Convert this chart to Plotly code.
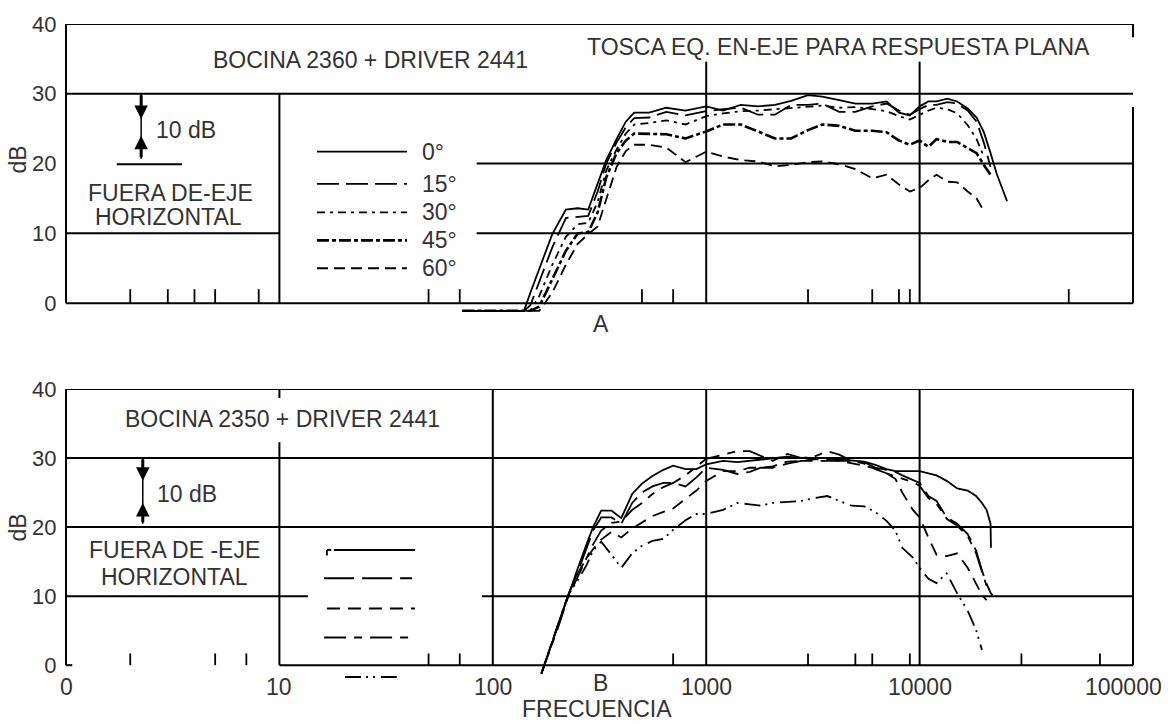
import math
import plotly.graph_objects as go

# ---------------- data ----------------
angles = ["0°", "15°", "30°", "45°", "60°"]

# A: horn 2360 + driver 2441, rough on-axis EQ for flat response
freq_a = [72, 140, 150, 165, 190, 220, 250, 280, 310, 340, 380, 420, 460, 540, 650,
          800, 1000, 1200, 1450, 1750, 2100, 2500, 3000, 3500, 4200, 5000, 6000, 7000,
          8000, 9000, 10000, 11000, 12000, 13500, 15000, 16800, 18500, 20000, 21500,
          23000, 25700]
db_a_0 = [-1.1, -1.1, 1.5, 5.0, 9.9, 13.4, 13.6, 13.4, 17.0, 20.5, 23.5, 26.0, 27.3, 27.3,
          28.0, 27.6, 28.2, 27.6, 28.4, 28.2, 28.4, 29.0, 29.8, 29.6, 29.1, 28.6, 28.6, 28.9,
          27.3, 26.9, 28.2, 28.9, 28.9, 29.3, 28.9, 27.9, 26.6, 24.5, 21.5, 18.5, 14.6]
db_a_15 = [-1.1, -1.1, -0.3, 3.0, 8.0, 12.2, 12.4, 12.5, 16.0, 20.0, 23.0, 25.2, 26.5, 26.6,
           27.4, 26.9, 27.5, 27.8, 28.0, 27.0, 27.0, 28.4, 28.4, 28.6, 27.4, 27.4, 28.2, 28.6,
           27.6, 27.0, 27.8, 28.4, 28.4, 28.8, 28.6, 27.6, 26.0, 23.0, 19.5, None, None]
db_a_30 = [-1.1, -1.1, -1.1, 1.0, 5.5, 9.5, 11.3, 11.5, 14.5, 19.0, 22.0, 24.3, 25.6, 25.8,
           26.2, 25.6, 26.8, 27.2, 27.5, 27.6, 27.8, 28.0, 28.1, 28.3, 28.0, 28.1, 27.8, 27.5,
           26.8, 26.3, 27.0, 27.6, 28.0, 27.8, 27.2, 25.5, 23.5, 21.0, None, None, None]
db_a_45 = [-1.1, -1.1, -1.1, -0.5, 3.5, 7.5, 10.0, 10.2, 13.0, 18.0, 21.5, 23.3, 24.3, 24.3,
           24.2, 23.6, 24.6, 25.6, 25.6, 24.6, 23.6, 23.6, 24.8, 25.6, 25.4, 24.7, 24.7, 24.5,
           23.3, 22.7, 23.3, 22.4, 23.5, 23.1, 23.1, 22.2, 21.5, 19.8, 18.4, None, None]
db_a_60 = [-1.1, -1.1, -1.1, -1.1, 1.5, 5.5, 8.5, 9.9, 11.0, 15.0, 19.5, 21.8, 22.7, 22.7,
           22.3, 20.2, 21.7, 21.0, 20.5, 20.3, 19.6, 19.8, 20.2, 20.3, 19.9, 19.2, 17.9, 18.4,
           17.0, 16.0, 16.5, 17.6, 18.4, 17.4, 17.3, 16.0, 15.0, 13.2, None, None, None]

# B: horn 2350 + driver 2441
freq_b = [169, 200, 225, 250, 275, 295, 322, 360, 400, 450, 500, 560, 630, 700, 800, 900,
          1000, 1200, 1400, 1600, 1800, 2050, 2400, 2800, 3200, 3700, 4200, 4800, 5500, 6200,
          7000, 7700, 8300, 9300, 10000, 11000, 12000, 13400, 15000, 16800, 18400, 19600,
          20600, 21500, 21600, 22000]
db_b_0 = [-1.2, 5.3, 10.1, 14.0, 17.5, 20.0, 22.4, 22.4, 21.3, 24.8, 26.3, 27.4, 28.3, 28.9,
          28.4, 28.4, 29.1, 29.6, 29.4, 29.6, 29.8, 30.0, 30.2, 30.0, 30.0, 30.0, 29.8, 29.6,
          29.5, 29.0, 28.4, 28.1, 28.1, 28.1, 28.1, 27.8, 27.5, 26.7, 25.6, 25.3, 24.5, 23.5,
          22.5, 20.5, 17.0, None]
db_b_15 = [-1.2, 5.3, 10.1, 13.5, 17.0, 19.5, 21.4, 21.4, 20.5, 23.5, 25.0, 25.9, 26.4, 26.4,
           25.9, 27.2, 28.6, 28.3, 27.7, 28.0, 28.6, 28.6, 29.2, 29.6, 29.6, 29.6, 29.6, 29.6,
           29.4, 28.6, 28.3, 28.0, 27.5, 26.8, 26.4, 24.5, 23.8, 21.4, 20.5, 19.0, 16.6, 13.7,
           11.8, 10.5, None, 10.1]
db_b_30 = [-1.2, 5.3, 10.1, 13.3, 15.5, 16.8, 18.2, 19.3, 18.5, 19.8, 20.7, 21.6, 22.2, 22.7,
           24.1, 25.3, 26.7, 28.1, 28.1, 28.6, 28.6, 28.8, 29.5, 29.6, 29.8, 29.8, 29.6, 29.3,
           28.9, 28.5, 27.8, 27.0, 25.0, 22.5, 21.4, 18.5, 16.0, 15.8, 16.2, 14.1, 11.8, 10.2,
           9.4, None, None, None]
db_b_45 = [-1.2, 5.0, 9.8, 12.8, 15.5, 17.5, 19.5, 20.6, 20.8, 22.5, 23.5, 24.8, 25.8, 26.4,
           27.5, 28.7, 29.9, 30.5, 31.0, 31.0, 30.3, 29.6, 30.6, 30.0, 30.2, 31.0, 30.5, 29.6,
           29.2, 28.4, 27.8, 27.4, 27.0, 26.5, 26.0, 24.2, 23.4, 21.2, 20.2, 18.7, 16.2, 13.4,
           11.5, None, None, None]
db_b_60 = [-1.2, 5.3, 10.1, 12.3, 14.5, 16.6, 17.9, 16.0, 14.1, 16.2, 17.3, 18.0, 18.3, 19.6,
           21.0, 21.9, 21.9, 22.5, 23.5, 23.3, 23.1, 23.5, 23.6, 23.8, 24.2, 24.5, 23.8, 23.1,
           23.0, 22.2, 20.9, 19.5, 17.0, 15.6, 14.1, 12.5, 11.9, 13.3, 10.4, 7.9, 5.1, 2.2,
           None, None, None, None]

decades = [1, 10, 100, 1000, 10000, 100000]
decade_labels = ["0", "10", "100", "1000", "10000", "100000"]
db_ticks = [0, 10, 20, 30, 40]
minor_a = [2, 3, 4, 5, 8, 50, 70, 500, 700, 3000, 6000, 8000, 9000, 50000]
minor_b = [2, 5, 7, 50, 70, 700, 3000, 5000, 6000, 9000, 30000, 70000]

# ---------------- styling ----------------
FONT = "Liberation Sans, Arial, sans-serif"
TXT = "#333333"
FS = 23
dash_a = ["solid", "22px,7px", "8px,5px,3px,5px", "12px,3px,4px,3px", "11px,6px"]
width_a = [1.8, 1.8, 1.8, 2.6, 1.8]
dash_b = ["solid", "30px,8px", "13px,8px", "22px,8px,8px,8px", "16px,5px,2px,5px,2px,6px"]

W, H = 1168, 724
L, R, T, B = 66, 35, 22, 45
PW, PH = W - L - R, H - T - B


def dom(f):
    return math.log10(f) / 5.0


def pxx(x):
    return (x - L) / PW


def pxy(y):
    return (H - B - y) / PH


fig = go.Figure()

series_a = [db_a_0, db_a_15, db_a_30, db_a_45, db_a_60]
series_b = [db_b_0, db_b_15, db_b_30, db_b_45, db_b_60]
for name, vals, dsh, wd in zip(angles, series_a, dash_a, width_a):
    fig.add_trace(go.Scatter(x=freq_a, y=vals, mode="lines", name=name, connectgaps=True,
                             line=dict(color="black", width=wd, dash=dsh),
                             xaxis="x", yaxis="y", showlegend=False))
for name, vals, dsh in zip(angles, series_b, dash_b):
    fig.add_trace(go.Scatter(x=freq_b, y=vals, mode="lines", name=name, connectgaps=True,
                             line=dict(color="black", width=1.8, dash=dsh),
                             xaxis="x2", yaxis="y2", showlegend=False))

shapes = []
ann = []


def refs(n):
    return ("x domain", "y") if n == 1 else ("x2 domain", "y2")


def hseg(n, y, f0, f1, width=2, dash="solid"):
    xr, yr = refs(n)
    shapes.append(dict(type="line", xref=xr, yref=yr, x0=dom(f0), x1=dom(f1), y0=y, y1=y,
                       layer="below", line=dict(color="black", width=width, dash=dash)))


def vseg(n, f, y0, y1, width=2):
    xr, yr = refs(n)
    shapes.append(dict(type="line", xref=xr, yref=yr, x0=dom(f), x1=dom(f), y0=y0, y1=y1,
                       layer="below", line=dict(color="black", width=width)))


# frame and grid of panel A
hseg(1, 40, 1, 1e5)
hseg(1, 30, 1, 1e5)
hseg(1, 20, 84, 1e5)
hseg(1, 10, 1, 10)
hseg(1, 10, 84, 1e5)
hseg(1, 0, 1, 1e5)
vseg(1, 1, 0, 40)
vseg(1, 10, 0, 30)
vseg(1, 1000, 0, 34.6)
vseg(1, 10000, 0, 34.6)
vseg(1, 1e5, 0, 28.1)
vseg(1, 1e5, 38.1, 40)
for f in minor_a:
    vseg(1, f, 0, 2.0, width=1.8)

# frame and grid of panel B
hseg(2, 40, 1, 1e5)
hseg(2, 30, 1, 1e5)
hseg(2, 20, 1, 1e5)
hseg(2, 10, 1, 13.6)
hseg(2, 10, 89, 1e5)
hseg(2, 0, 10, 1e5)
hseg(2, 0, 1, 1.07)
vseg(2, 1, 0, 40)
vseg(2, 10, 38.7, 40)
vseg(2, 10, 0, 32.3)
for f in decades[2:]:
    vseg(2, f, 0, 40)
for f in minor_b:
    vseg(2, f, 0, 1.7, width=1.8)

# legend keys of panel A
leg_y_a = [21.7, 17.1, 13.0, 9.0, 5.0]
for name, yv, dsh, wd in zip(angles, leg_y_a, dash_a, width_a):
    hseg(1, yv, 15.0, 39.6, width=wd, dash=dsh)
    ann.append(dict(text=name, xref="x domain", yref="y", x=dom(45.6), y=yv,
                    xanchor="left", yanchor="middle", showarrow=False))

# legend keys of panel B
hseg(2, 16.7, 18.0, 43.2)
vseg(2, 16.7, 15.9, 16.7, width=1.8)
hseg(2, 16.7, 16.7, 17.5)
hseg(2, 12.6, 16.2, 41.9, dash=dash_b[1])
hseg(2, 8.2, 16.7, 43.2, dash=dash_b[2])
hseg(2, 4.0, 16.2, 43.2, dash=dash_b[3])
shapes.append(dict(type="line", xref="x2 domain", yref="paper", x0=dom(20.3), x1=dom(35.5),
                   y0=pxy(677), y1=pxy(677), line=dict(color="black", width=1.8, dash=dash_b[4])))

# 10 dB scale marks
hseg(1, 19.9, 1.73, 3.5)
for n, f, top, bot, up_head, dn_head, k in [(1, 2.25, 30.0, 20.7, 26.4, 24.0, 7.0),
                                            (2, 2.29, 30.0, 20.5, 26.7, 23.5, 6.93)]:
    vseg(n, f, bot, top, width=1.5)
    xr, yr = refs(n)
    ann.append(dict(text="", xref=xr, yref=yr, x=dom(f), y=up_head, ax=0,
                    ay=-(top - up_head) * k, showarrow=True, arrowhead=2, arrowsize=0.9,
                    arrowwidth=3, arrowcolor="black"))
    ann.append(dict(text="", xref=xr, yref=yr, x=dom(f), y=dn_head, ax=0,
                    ay=(dn_head - bot) * k, showarrow=True, arrowhead=2, arrowsize=0.9,
                    arrowwidth=3, arrowcolor="black"))


def label(text, x, y, anchor="left", angle=0):
    ann.append(dict(text=text, xref="paper", yref="paper", x=pxx(x), y=pxy(y),
                    xanchor=anchor, yanchor="middle", showarrow=False, textangle=angle))


label("BOCINA 2360 + DRIVER 2441", 211, 58)
label("TOSCA EQ. EN-EJE PARA RESPUESTA PLANA", 585, 45)
label("10 dB", 154, 128)
label("FUERA DE-EJE", 170, 192, "center")
label("HORIZONTAL", 168, 216, "center")
label("A", 601, 323, "center")
label("BOCINA 2350 + DRIVER 2441", 123, 418)
label("10 dB", 155, 493)
label("FUERA DE -EJE", 174, 550, "center")
label("HORIZONTAL", 174, 577, "center")
label("B", 600, 683, "center")
label("FRECUENCIA", 597, 709, "center")
label("dB", 18, 158, "center", -90)
label("dB", 18, 527, "center", -90)

# frequency labels under panel B
for f, txt in zip(decades, decade_labels):
    ann.append(dict(text=txt, xref="x2 domain", yref="paper", x=dom(f), y=pxy(687),
                    xanchor="center", yanchor="middle", showarrow=False,
                    xshift=-10 if f == decades[-1] else 0))

yax = dict(range=[-2, 40], tickvals=db_ticks, showgrid=False, zeroline=False, showline=False,
           ticks="outside", ticklen=4, tickcolor="rgba(0,0,0,0)",
           tickfont=dict(family=FONT, size=22, color=TXT), fixedrange=True)
xax = dict(type="log", range=[0, 5], showgrid=False, zeroline=False, showline=False,
           ticks="", showticklabels=False, fixedrange=True)

fig.update_layout(
    width=W, height=H,
    margin=dict(l=L, r=R, t=T, b=B),
    paper_bgcolor="white", plot_bgcolor="white",
    font=dict(family=FONT, size=FS, color=TXT),
    xaxis=dict(xax, domain=[0, 1], anchor="y"),
    yaxis=dict(yax, domain=[1 - 294 / PH, 1], anchor="x"),
    xaxis2=dict(xax, domain=[0, 1], anchor="y2"),
    yaxis2=dict(yax, domain=[0, 290.85 / PH], anchor="x2"),
    shapes=shapes,
    annotations=ann,
    showlegend=False,
)

fig.write_html("out.html")
